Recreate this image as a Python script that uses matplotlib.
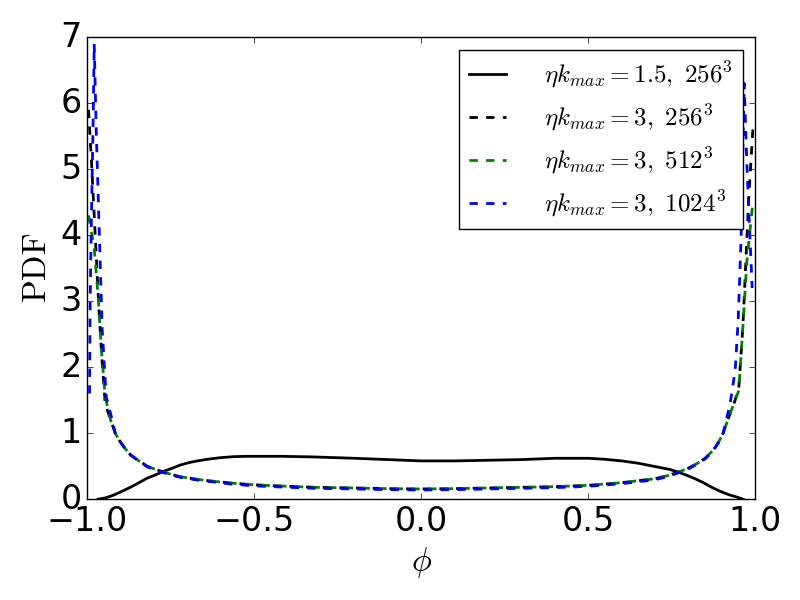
import matplotlib
matplotlib.use('Agg')
import matplotlib.pyplot as plt

plt.style.use('classic')
plt.rcParams['mathtext.fontset'] = 'cm'

# eta k_max = 1.5, 256^3
x_a = [-0.967, -0.945, -0.922, -0.90, -0.871, -0.845, -0.82, -0.795, -0.772, -0.745,
       -0.72, -0.695, -0.67, -0.64, -0.60, -0.56, -0.52, -0.42, -0.32, -0.2, -0.1,
       0.0, 0.1, 0.2, 0.3, 0.4, 0.5, 0.55, 0.6, 0.65, 0.695, 0.745, 0.77, 0.796,
       0.82, 0.845, 0.87, 0.895, 0.92, 0.946, 0.964]
y_a = [0.0, 0.02, 0.06, 0.11, 0.18, 0.25, 0.32, 0.37, 0.42, 0.47,
       0.52, 0.555, 0.58, 0.605, 0.63, 0.645, 0.65, 0.65, 0.64, 0.62, 0.60,
       0.58, 0.58, 0.59, 0.60, 0.62, 0.62, 0.605, 0.58, 0.545, 0.50, 0.45, 0.41, 0.36,
       0.31, 0.25, 0.18, 0.12, 0.07, 0.03, 0.0]

# shared middle part
x_mid = [-0.916, -0.905, -0.89, -0.87, -0.845, -0.82, -0.795, -0.77, -0.745, -0.72,
         -0.67, -0.62, -0.57, -0.52, -0.47, -0.42, -0.32, -0.2, -0.1, 0.0, 0.1, 0.2,
         0.3, 0.4, 0.5, 0.55, 0.6, 0.65, 0.7, 0.74, 0.775, 0.80, 0.826, 0.85, 0.874,
         0.89, 0.904]
y_mid = [1.0, 0.9, 0.79, 0.67, 0.58, 0.50, 0.45, 0.41, 0.37, 0.34,
         0.30, 0.27, 0.245, 0.225, 0.21, 0.20, 0.18, 0.17, 0.16, 0.155, 0.16, 0.17,
         0.18, 0.19, 0.21, 0.23, 0.25, 0.28, 0.31, 0.36, 0.42, 0.47, 0.54, 0.62, 0.74,
         0.86, 1.0]
y_mid_blue = [1.0, 0.9, 0.79, 0.67, 0.575, 0.49, 0.44, 0.40, 0.36, 0.33,
              0.29, 0.26, 0.23, 0.21, 0.195, 0.185, 0.165, 0.155, 0.145, 0.14, 0.145, 0.155,
              0.165, 0.175, 0.195, 0.215, 0.235, 0.265, 0.295, 0.345, 0.41, 0.46, 0.53, 0.61, 0.73,
              0.86, 1.0]

# eta k_max = 3, 256^3
x_b = [-0.996, -0.987, -0.979, -0.972, -0.964, -0.955, -0.946, -0.93] + x_mid + \
      [0.925, 0.94, 0.951, 0.963, 0.972, 0.981, 0.993]
y_b = [5.9, 5.1, 4.3, 3.6, 2.8, 2.06, 1.45, 1.2] + y_mid + \
      [1.3, 1.5, 1.7, 2.6, 3.6, 4.6, 5.6]

# eta k_max = 3, 512^3
x_c = [-0.996, -0.979, -0.967, -0.958, -0.946, -0.93] + x_mid + \
      [0.925, 0.94, 0.951, 0.963, 0.975, 0.993]
y_c = [4.3, 3.8, 3.06, 2.3, 1.55, 1.2] + y_mid + \
      [1.3, 1.5, 1.65, 2.6, 3.6, 4.5]

# eta k_max = 3, 1024^3
x_d = [-0.993, -0.991, -0.988, -0.982, -0.979, -0.973, -0.964, -0.955, -0.943, -0.925] + x_mid + \
      [0.925, 0.94, 0.949, 0.958, 0.967, 0.975, 0.983, 0.991]
y_d = [1.6, 3.06, 4.07, 5.8, 6.9, 5.6, 4.07, 2.56, 1.55, 1.2] + y_mid_blue + \
      [1.45, 1.95, 2.7, 4.0, 6.3, 5.1, 4.1, 3.2]

fig = plt.figure(figsize=(8, 6), dpi=100, facecolor='white')
ax = fig.add_axes([0.109, 0.168, 0.835, 0.770])

ax.plot(x_a, y_a, 'k-', lw=2, label=r'$\eta k_{max}=1.5,\ 256^3$')
ax.plot(x_b, y_b, 'k--', lw=2, label=r'$\eta k_{max}=3,\ 256^3$')
ax.plot(x_c, y_c, 'g--', lw=2, label=r'$\eta k_{max}=3,\ 512^3$')
ax.plot(x_d, y_d, 'b--', lw=2, label=r'$\eta k_{max}=3,\ 1024^3$')

ax.set_xlim(-1, 1)
ax.set_ylim(0, 7)
ax.set_xticks([-1.0, -0.5, 0.0, 0.5, 1.0])
ax.tick_params(labelsize=24)
ax.set_xlabel(r'$\phi$', fontsize=24)
ax.set_ylabel(r'$\mathrm{PDF}$', fontsize=24)

ax.legend(loc='upper right', fontsize=18, handlelength=1.5, handletextpad=1.5,
          numpoints=1)

fig.savefig('out.png', dpi=100, facecolor='white')
